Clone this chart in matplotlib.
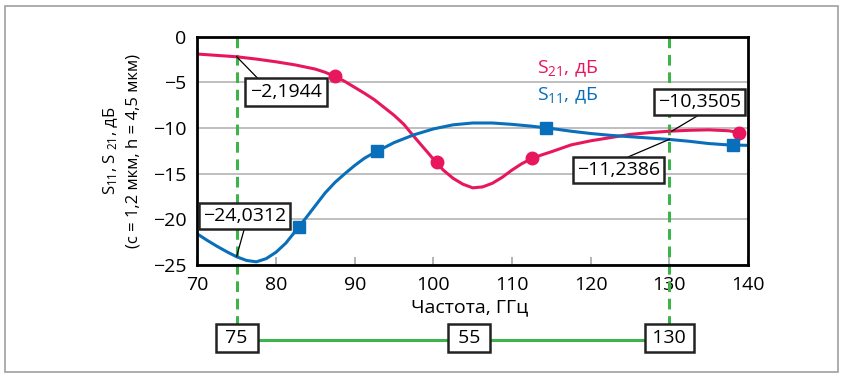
import matplotlib
matplotlib.use("Agg")
import matplotlib.pyplot as plt
import matplotlib.transforms as mtransforms
from matplotlib.patches import Rectangle

plt.rcParams['font.family'] = ['Open Sans', 'DejaVu Sans']
plt.rcParams['mathtext.default'] = 'regular'

# данные
freq21 = [70, 72.5, 75, 77.5, 80, 82.5, 85, 86.25, 87.5, 88.75, 90, 91.25, 92.5, 93.75,
          95, 96.25, 97.5, 98.75, 100, 101.25, 102.5, 103.75, 105, 106.25, 107.5, 108.75,
          110, 111.25, 112.5, 113.75, 115, 117.5, 120, 122.5, 125, 127.5, 130, 132.5,
          135, 137.5, 139]
s21 = [-1.9, -2.05, -2.2, -2.45, -2.75, -3.1, -3.55, -3.9, -4.35, -4.9, -5.55, -6.2,
       -6.9, -7.75, -8.6, -9.6, -10.9, -12.15, -13.4, -14.6, -15.5, -16.15, -16.55,
       -16.45, -16.05, -15.4, -14.6, -13.9, -13.35, -12.95, -12.6, -11.85, -11.4,
       -11.05, -10.7, -10.5, -10.35, -10.25, -10.2, -10.3, -10.5]
freq11 = [70, 71.25, 72.5, 73.75, 75, 76.25, 77.5, 78.75, 80, 81.25, 82.5, 83.75, 85,
          86.25, 87.5, 88.75, 90, 91.25, 92.5, 95, 97.5, 100, 102.5, 105, 107.5, 110,
          112.5, 115, 117.5, 120, 122.5, 125, 127.5, 130, 132.5, 135, 137.5, 140]
s11 = [-21.6, -22.3, -22.95, -23.55, -24.1, -24.5, -24.65, -24.3, -23.6, -22.6, -21.25,
       -19.9, -18.5, -17.1, -15.95, -15.0, -14.1, -13.3, -12.7, -11.6, -10.75, -10.1,
       -9.65, -9.45, -9.45, -9.6, -9.8, -10.05, -10.35, -10.6, -10.8, -10.95, -11.1,
       -11.25, -11.45, -11.7, -11.85, -11.9]

s21_mark_x = [87.5, 100.4, 112.6, 138.9]
s21_mark_y = [-4.35, -13.75, -13.3, -10.5]
s11_mark_x = [82.9, 92.8, 114.3, 138.1]
s11_mark_y = [-20.8, -12.5, -10.0, -11.9]

f_low, f_high = 75, 130
band_label = "55"
band_label_x = 104.5

# подписи значений: (текст, точка, центр рамки, конец выноски)
notes = [("\u22122,1944", (75, -2.19), (81.3, -6.05), (78.0, -4.85)),
         ("\u221224,0312", (75, -24.03), (76.0, -19.65), (75.95, -21.1)),
         ("\u221210,3505", (130.3, -10.35), (133.8, -7.13), (133.7, -8.6)),
         ("\u221211,2386", (130, -11.24), (123.5, -14.58), (124.8, -13.15))]

pink = '#e8175d'
blue = '#0a6fba'
green = '#3cb44a'
fs = 14

fig = plt.figure(figsize=(8.42, 3.74), dpi=100)
ax = fig.add_axes([0.2344, 0.2914, 0.654, 0.6105])

ax.plot(freq21, s21, color=pink, lw=2.2, zorder=3)
ax.plot(freq11, s11, color=blue, lw=2.2, zorder=3)
ax.plot(s21_mark_x, s21_mark_y, 'o', color=pink, ms=9, zorder=4, clip_on=False)
ax.plot(s11_mark_x, s11_mark_y, 's', color=blue, ms=9, zorder=4, clip_on=False)

ax.set_xlim(70, 140)
ax.set_ylim(-25, 0)
ax.set_xticks(range(70, 141, 10))
ax.set_yticks(range(-25, 1, 5))
ax.yaxis.grid(True, color='#b4b4b4', lw=1.2)
ax.set_axisbelow(True)
ax.tick_params(axis='y', length=0, pad=8, labelsize=fs)
ax.tick_params(axis='x', direction='in', length=6, width=1.2, color='#a8a8a8',
               pad=8, labelsize=fs)
for sp in ax.spines.values():
    sp.set_linewidth(2)
    sp.set_zorder(6)

ax.text(113.2, -3.55, r"S$_{21}$, дБ", color=pink, fontsize=fs, va='center')
ax.text(113.2, -6.5, r"S$_{11}$, дБ", color=blue, fontsize=fs, va='center')

for i, (txt, pt, c, edge) in enumerate(notes):
    pad = 0.25 if i == 0 else 0.2
    ax.plot([pt[0], edge[0]], [pt[1], edge[1]], color='black', lw=0.9, zorder=5)
    ax.text(c[0], c[1], txt, ha='center', va='center', fontsize=fs, zorder=7,
            bbox=dict(boxstyle='square,pad=%g' % pad, fc='white', ec='#222222', lw=1.8))

# зелёные границы полосы и нижняя шкала
trans = mtransforms.blended_transform_factory(ax.transData, fig.transFigure)
for f in (f_low, f_high):
    ax.plot([f, f], [0.902, 0.13], transform=trans, color=green, lw=2.2,
            ls=(0, (3.5, 2.2)), clip_on=False, zorder=2)
ax.plot([f_low, f_high], [0.091, 0.091], transform=trans, color=green, lw=2.2,
        clip_on=False, zorder=2)
for f, txt in ((f_low, " %d " % f_low), (band_label_x, " %s " % band_label),
               (f_high, "\u2009%d\u2009" % f_high)):
    ax.text(f, 0.097, txt, transform=trans, ha='center', va='center',
            fontsize=fs, zorder=7,
            bbox=dict(boxstyle='square,pad=0.25', fc='white', ec='#222222', lw=1.8))

fig.text(0.558, 0.179, "Частота, ГГц", ha='center', va='center', fontsize=fs)
fig.text(0.131, 0.597, r"S$_{11}$, S $_{21}$, дБ", rotation=90, ha='center',
         va='center', fontsize=12)
fig.text(0.158, 0.597, "(с = 1,2 мкм, h = 4,5 мкм)", rotation=90, ha='center',
         va='center', fontsize=12)

fig.patches.append(Rectangle((5 / 842, 2 / 374), 833 / 842, 366 / 374, fill=False,
                             ec='#a0a0a0', lw=1.2, transform=fig.transFigure))

fig.savefig('out.png', dpi=100)
